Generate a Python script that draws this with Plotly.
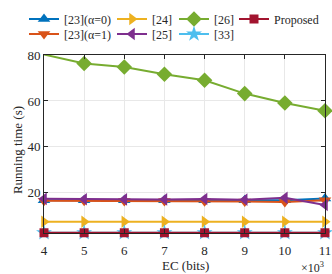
import plotly.graph_objects as go

ec = [4, 5, 6, 7, 8, 9, 10, 11]
alg23_a0 = [16.8, 16.8, 16.8, 16.8, 16.8, 16.8, 16.8, 17.5]
alg23_a1 = [16.5, 16.5, 16.4, 16.4, 16.3, 16.2, 16.0, 16.8]
alg24 = [7.4, 7.4, 7.4, 7.4, 7.4, 7.4, 7.4, 7.4]
alg25 = [17.4, 17.2, 17.1, 17.1, 17.3, 17.0, 17.8, 14.7]
alg26 = [80.2, 76.3, 74.8, 71.6, 69.0, 63.2, 59.1, 55.7]
alg33 = [2.6, 2.6, 2.6, 2.6, 2.6, 2.6, 2.6, 2.6]
proposed = [2.6, 2.6, 2.6, 2.6, 2.6, 2.6, 2.6, 2.6]

# name, values, color, symbol, size, legend slot (col, row)
series = [
    ("[23](α=0)", alg23_a0, "#0072BD", "triangle-up", 11, (0, 0)),
    ("[23](α=1)", alg23_a1, "#D95319", "triangle-down", 11, (0, 1)),
    ("[24]", alg24, "#EDB120", "triangle-right", 11, (1, 0)),
    ("[25]", alg25, "#7E2F8E", "triangle-left", 11, (1, 1)),
    ("[26]", alg26, "#77AC30", "diamond", 12, (2, 0)),
    ("[33]", alg33, "#4DBEEE", "star", 12, (2, 1)),
    ("Proposed", proposed, "#A2142F", "square", 9, (3, 0)),
]

col_x = [24, 112, 174, 234]
row_y = [19, 34]

font_family = "Liberation Serif"
fig = go.Figure()
legend_defs = {}
for i, (name, vals, color, sym, size, (c, r)) in enumerate(series):
    lname = "legend" if i == 0 else f"legend{i + 1}"
    fig.add_trace(go.Scatter(
        x=ec, y=vals, name=name, mode="lines+markers",
        line=dict(color=color, width=2),
        marker=dict(symbol=sym, size=size, color=color, line=dict(width=0)),
        legend=lname, cliponaxis=False,
    ))
    legend_defs[lname] = dict(
        orientation="v", x=col_x[c] / 332, y=1 - row_y[r] / 274,
        xref="container", yref="container", xanchor="left", yanchor="middle",
        font=dict(size=12, family=font_family, color="#262626"),
        bgcolor="rgba(0,0,0,0)", itemwidth=30,
    )

axis_common = dict(
    showline=True, linecolor="#262626", linewidth=1, mirror="ticks",
    ticks="inside", ticklen=4, tickcolor="#262626",
    showgrid=True, gridcolor="#e8e8e8", gridwidth=1, zeroline=False,
    tickfont=dict(family=font_family, size=13, color="#262626"),
    automargin=False,
)

fig.update_layout(
    width=332, height=274,
    margin=dict(l=44, r=7, t=55, b=41, autoexpand=False),
    paper_bgcolor="white", plot_bgcolor="white",
    font=dict(family=font_family, size=12, color="#262626"),
    showlegend=True,
    xaxis=dict(range=[4, 11], tickvals=ec, ticktext=[str(v) for v in ec],
               ticklabelstandoff=5, **axis_common),
    yaxis=dict(range=[2.5, 80], tickvals=[20, 40, 60, 80], **axis_common),
    annotations=[
        dict(text="×10<sup>3</sup>", x=1.0, y=0, xref="paper", yref="paper",
             xanchor="right", yanchor="middle", yshift=-34, xshift=1,
             showarrow=False, font=dict(size=12, family=font_family)),
        dict(text="EC (bits)", x=0.505, y=-0.18, xref="paper", yref="paper",
             xanchor="center", yanchor="middle", showarrow=False,
             font=dict(size=13, family=font_family, color="#262626")),
        dict(text="Running time (s)", x=-0.096, y=0.466, xref="paper", yref="paper",
             xanchor="center", yanchor="middle", textangle=-90, showarrow=False,
             font=dict(size=13, family=font_family, color="#262626")),
    ],
    **legend_defs,
)

fig.write_html(
    "out.html",
    config={"displayModeBar": False},
    post_script="document.body.style.margin='0';document.documentElement.style.margin='0';",
)
